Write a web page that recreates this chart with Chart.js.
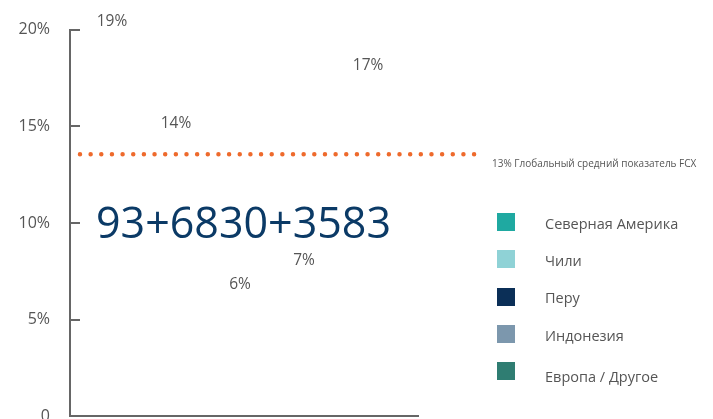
<!DOCTYPE html>
<html><head><meta charset="utf-8">
<script src="https://cdn.jsdelivr.net/npm/chart.js@4"></script>
<style>
html,body{margin:0;padding:0;background:#fff;overflow:hidden;}
#wrap{position:relative;width:713px;height:419px;overflow:hidden;font-family:'Open Sans',sans-serif;}
#cvbox{position:absolute;left:0;top:0;width:713px;height:446px;}
#big{position:absolute;left:96px;top:200px;font-size:43px;line-height:1;color:#0B3A66;white-space:nowrap;}
#avg{position:absolute;left:492px;top:158px;font-size:10px;line-height:1;color:#555;white-space:nowrap;}
.row{position:absolute;left:497px;height:18px;display:flex;align-items:center;white-space:nowrap;}
.sw{width:18px;height:18px;flex:none;}
.tx{margin-left:30px;font-size:14.5px;color:#555;line-height:1;position:relative;top:2px;}
</style></head>
<body>
<div id="wrap">
  <div id="cvbox"><canvas id="c"></canvas></div>
  <div id="big"></div>
  <div id="avg"></div>
  <div id="legend"></div>
</div>
<script>
const categories = ['Северная Америка', 'Чили', 'Перу', 'Индонезия', 'Европа / Другое'];
const values = [19.3, 14.0, 5.7, 6.9, 17.0];
const colors = ['#1FA9A1', '#8FD2D6', '#0B2F57', '#7C97AD', '#2F7D72'];
const positions = [1, 2, 3, 4, 5];
const avgValue = 13.56;
const avgSpan = [0.5, 6.67];
const avgLabel = '13% Глобальный средний показатель FCX';
const bigText = '93+6830+3583';
const yTicks = [0, 5, 10, 15, 20];

document.getElementById('big').textContent = bigText;
document.getElementById('avg').textContent = avgLabel;
const lg = document.getElementById('legend');
categories.forEach((c, i) => {
  const r = document.createElement('div');
  r.className = 'row';
  r.style.top = (213 + i * 37.3) + 'px';
  r.innerHTML = '<div class="sw" style="background:' + colors[i] + '"></div><div class="tx"></div>';
  const t = r.querySelector('.tx');
  t.textContent = c;
  if (i === categories.length - 1) t.style.top = '6px';
  lg.appendChild(r);
});

Chart.defaults.font.family = "'Open Sans', sans-serif";
Chart.defaults.animation = false;

const extras = {
  id: 'extras',
  afterDatasetsDraw(chart) {
    const ctx = chart.ctx;
    const y = chart.scales.y;
    const left = chart.chartArea.left;
    ctx.save();
    ctx.strokeStyle = '#666';
    ctx.lineWidth = 2;
    yTicks.forEach(t => {
      const py = Math.round(y.getPixelForValue(t));
      ctx.beginPath();
      ctx.moveTo(left, py);
      ctx.lineTo(left + 10, py);
      ctx.stroke();
    });
    const meta = chart.getDatasetMeta(0);
    ctx.fillStyle = '#555';
    ctx.font = "15.5px 'Open Sans', sans-serif";
    ctx.textAlign = 'center';
    ctx.textBaseline = 'middle';
    meta.data.forEach((el, i) => {
      ctx.fillText(Math.round(values[i]) + '%', el.x, el.y - 22);
    });
    ctx.restore();
  }
};

new Chart(document.getElementById('c'), {
  data: {
    datasets: [
      {
        type: 'bar',
        label: 'regions',
        data: positions.map((p, i) => ({ x: p, y: values[i] })),
        backgroundColor: 'rgba(0,0,0,0)',
        borderWidth: 0
      },
      {
        type: 'line',
        label: avgLabel,
        data: avgSpan.map(x => ({ x: x, y: avgValue })),
        borderColor: '#EE6A2C',
        borderWidth: 4.5,
        borderDash: [0.001, 10.65],
        borderCapStyle: 'round',
        pointRadius: 0,
        clip: false,
        fill: false
      }
    ]
  },
  options: {
    responsive: true,
    maintainAspectRatio: false,
    layout: { padding: { left: 16, right: 295, top: 18, bottom: 0 } },
    plugins: { legend: { display: false }, tooltip: { enabled: false } },
    scales: {
      x: {
        type: 'linear',
        offset: false,
        min: 0.344,
        max: 5.78,
        ticks: { display: false },
        grid: { drawOnChartArea: false, drawTicks: false, offset: false },
        border: { color: '#666', width: 2 },
        afterFit(s) { s.height = 2; }
      },
      y: {
        min: 0,
        max: 20,
        ticks: {
          stepSize: 5,
          padding: 20,
          color: '#555',
          font: { size: 16 },
          callback: v => v === 0 ? '0' : v + '%'
        },
        grid: { drawOnChartArea: false, drawTicks: false },
        border: { color: '#666', width: 2 },
        afterFit(s) { s.width = 54; }
      }
    }
  },
  plugins: [extras]
});
</script>
</body></html>
